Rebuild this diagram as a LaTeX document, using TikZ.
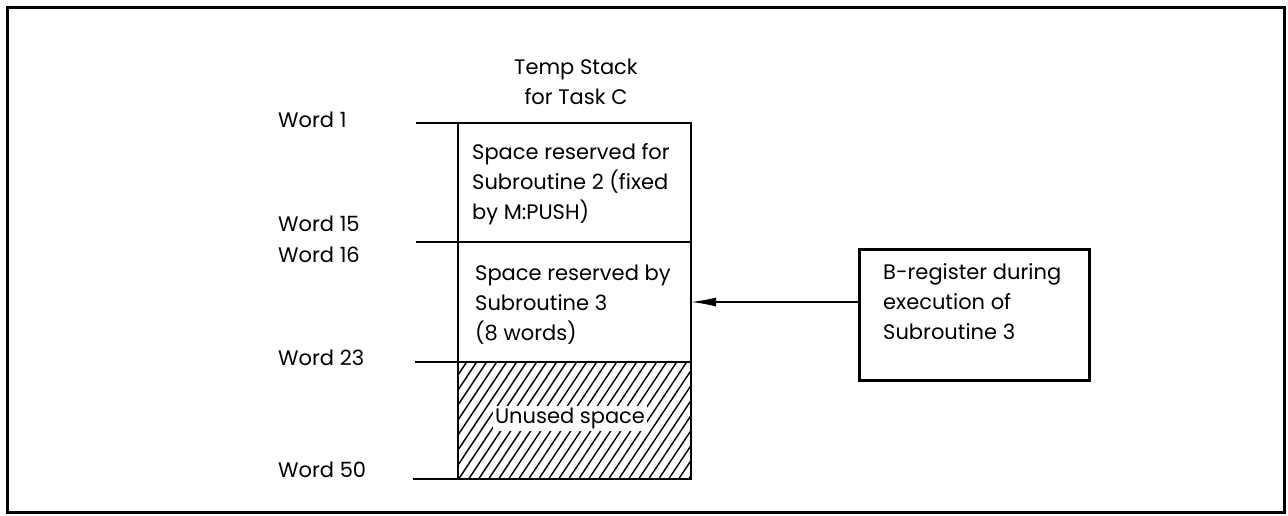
\documentclass[tikz,border=0pt]{standalone}
\usepackage{fontspec}
\setmainfont{Poppins}
\usetikzlibrary{arrows.meta}
\begin{document}
\begin{tikzpicture}[x=1pt,y=-1pt,
  txt/.style={inner sep=0pt, font=\fontsize{21}{30}\selectfont, align=left},
  lbl/.style={txt, anchor=west},
  cell/.style={draw, line width=1.5pt, anchor=north west, minimum width=233pt, inner sep=0pt, outer sep=0pt},
  outline/.style={line width=2.6pt},
  tick/.style={line width=1.5pt},
  hatch/.style={line width=1.4pt},
  arr/.style={line width=1.5pt, -{Latex[length=25pt,width=9pt]}},
  frame/.style={line width=3pt}
]
\useasboundingbox (0,0) rectangle (1288,516);
\draw[frame] (7,8) rectangle (1284,512);

% title
\node[txt, align=center] (title) at (576,82) {Temp Stack\\for Task C};

% stack cells
\node[cell, minimum height=119pt] (s1) at (458,123) {};
\node[cell, minimum height=120pt] (s2) at (458,242) {};
\node[cell, minimum height=117pt] (s3) at (458,362) {};

% hatch in unused space
\begin{scope}
\clip (s3.north west) rectangle (s3.south east);
\foreach \i in {-14,...,24}
  \draw[hatch] (458+\i*10,480) -- ++(120,-180);
\end{scope}
\node[txt, fill=white, inner sep=2pt] (unused) at (570,418) {Unused space};

\draw[outline] (s1.north west) rectangle (s3.south east);

% texts in cells
\node[lbl, anchor=north west] (t1) at (472,143) {Space reserved for\\Subroutine 2 (fixed\\by M:PUSH)};
\node[lbl, anchor=north west] (t2) at (475,265) {Space reserved by\\Subroutine 3\\(8 words)};

% ticks
\coordinate (k1) at (416,123);
\coordinate (k2) at (416,242);
\coordinate (k3) at (415,362);
\coordinate (k4) at (413,479);
\draw[tick] (k1) -- (s1.north west);
\draw[tick] (k2) -- (s2.north west);
\draw[tick] (k3) -- (s3.north west);
\draw[tick] (k4) -- (s3.south west);

% word labels
\node[lbl] (w1) at (278,120) {Word 1};
\node[lbl] (w15) at (278,224) {Word 15};
\node[lbl] (w16) at (278,255) {Word 16};
\node[lbl] (w23) at (278,358) {Word 23};
\node[lbl] (w50) at (278,470) {Word 50};

% B-register box
\node[draw, line width=2.6pt, anchor=north west, minimum width=230pt, minimum height=131pt, inner sep=0pt] (breg) at (858,248) {};
\node[lbl, anchor=north west] (bt) at (883,263) {B-register during\\execution of\\Subroutine 3};

\draw[arr] (s2.east -| breg.west) -- (s2.east);
\end{tikzpicture}
\end{document}
